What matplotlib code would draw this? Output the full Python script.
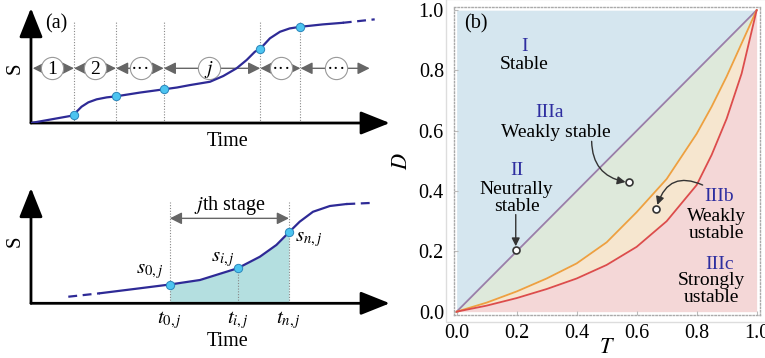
import numpy as np
import matplotlib
matplotlib.use("Agg")
import matplotlib.pyplot as plt
from matplotlib.patches import Rectangle

plt.rcParams['font.family'] = ['Liberation Serif', 'DejaVu Serif']
plt.rcParams['mathtext.fontset'] = 'stix'
plt.rcParams['font.size'] = 14

# ---- panel (a), top: S vs time with stages ----
top_t = [0, 0.120, 0.127, 0.141, 0.160, 0.183, 0.211, 0.237, 0.304, 0.370, 0.407,
         0.443, 0.499, 0.536, 0.573, 0.601, 0.624, 0.639, 0.666, 0.694, 0.721,
         0.750, 0.813, 0.869]
top_s = [0, 0.067, 0.098, 0.142, 0.180, 0.206, 0.223, 0.232, 0.265, 0.293, 0.309,
         0.330, 0.359, 0.409, 0.476, 0.548, 0.620, 0.646, 0.737, 0.794, 0.823,
         0.837, 0.858, 0.872]
top_dash_t = [0.869, 0.958]
top_dash_s = [0.872, 0.902]
bnd_t = [0.120, 0.237, 0.370, 0.639, 0.751]
bnd_s = [0.067, 0.232, 0.293, 0.646, 0.837]
stage_edges = [0.005, 0.120, 0.237, 0.370, 0.639, 0.751, 0.944]
stage_labels = ['1', '2', '···', '$j$', '···', '···']
stage_label_t = [0.058, 0.178, 0.306, 0.497, 0.698, 0.851]

# ---- panel (a), bottom: jth stage ----
bot_t = [0.192, 0.290, 0.387, 0.471, 0.576, 0.638, 0.684, 0.719, 0.749, 0.786,
         0.833, 0.879]
bot_s = [0.087, 0.125, 0.163, 0.202, 0.304, 0.404, 0.506, 0.616, 0.708, 0.794,
         0.844, 0.861]
bot_dash_l_t = [0.104, 0.192]
bot_dash_l_s = [0.057, 0.087]
bot_dash_r_t = [0.879, 0.958]
bot_dash_r_s = [0.861, 0.872]
pt_t = [0.387, 0.576, 0.719]
pt_s = [0.163, 0.304, 0.616]

# ---- panel (b): stability regions ----
T = [0, 0.1, 0.2, 0.3, 0.4, 0.5, 0.6, 0.7, 0.8, 0.85, 0.9, 0.95, 1.0]
D_orange = [0, 0.03, 0.067, 0.11, 0.16, 0.23, 0.33, 0.44, 0.59, 0.68, 0.78, 0.89, 1.0]
D_red = [0, 0.02, 0.045, 0.075, 0.11, 0.155, 0.215, 0.30, 0.42, 0.52, 0.64, 0.79, 1.0]
ticks = [0.0, 0.2, 0.4, 0.6, 0.8, 1.0]

curve_c = '#2e2a96'
dot_fc = '#4cc4f0'
dot_ec = '#2a86bb'

fig = plt.figure(figsize=(7.65, 3.58), dpi=100)


def axis_arrows(ax):
    for tip in [(1.0, 0), (0, 1.0)]:
        ax.annotate('', xy=tip, xytext=(0, 0),
                    arrowprops=dict(arrowstyle='-|>,head_length=1.0,head_width=0.4',
                                    color='black', lw=2, mutation_scale=18,
                                    shrinkA=0, shrinkB=0), annotation_clip=False)


# top schematic
ax1 = fig.add_axes([0.0405, 0.6564, 0.469, 0.321])
ax1.set_xlim(0, 1)
ax1.set_ylim(0, 1)
ax1.axis('off')
axis_arrows(ax1)
ax1.vlines(bnd_t, -0.03, 0.878, colors='#888888', linestyles=(0, (1, 1.5)), lw=0.8)
row_s = 0.476
for a, b in zip(stage_edges[:-1], stage_edges[1:]):
    ax1.annotate('', xy=(b, row_s), xytext=(a, row_s),
                 arrowprops=dict(arrowstyle='<|-|>,head_length=0.6,head_width=0.3',
                                 color='#666666', lw=1, mutation_scale=12,
                                 shrinkA=0, shrinkB=0), zorder=1)
ax1.plot(stage_label_t, [row_s] * len(stage_label_t), 'o', ms=16, mfc='white',
         mec='#999999', mew=0.8, zorder=2)
for x, lab in zip(stage_label_t, stage_labels):
    ax1.text(x, row_s - 0.01, lab, ha='center', va='center', fontsize=14, zorder=3)
ax1.plot(top_t, top_s, color=curve_c, lw=1.6, zorder=4)
ax1.plot(top_dash_t, top_dash_s, color=curve_c, lw=1.6, ls=(0, (4, 2.5)), zorder=4)
ax1.plot(bnd_t, bnd_s, 'o', ms=6, mfc=dot_fc, mec=dot_ec, mew=0.7, zorder=5)
ax1.text(-0.045, 0.48, 'S', rotation=90, ha='center', va='center', fontsize=15)
ax1.text(0.548, -0.163, 'Time', ha='center', va='center', fontsize=14.5)
ax1.text(0.07, 0.862, '(a)', ha='center', va='center', fontsize=14.5)

# bottom schematic
ax2 = fig.add_axes([0.0405, 0.1528, 0.469, 0.322])
ax2.set_xlim(0, 1)
ax2.set_ylim(0, 1)
ax2.axis('off')
axis_arrows(ax2)
bt = np.array(bot_t)
bs = np.array(bot_s)
m = (bt >= pt_t[0]) & (bt <= pt_t[2])
ax2.fill_between(bt[m], 0, bs[m], color='#b4dfe0', lw=0)
ax2.vlines([pt_t[0], pt_t[2]], 0, 0.88, colors='#888888', linestyles=(0, (1, 1.5)), lw=0.8)
ax2.vlines([pt_t[1]], 0, pt_s[1], colors='#888888', linestyles=(0, (1, 1.5)), lw=0.8)
ax2.annotate('', xy=(pt_t[2], 0.737), xytext=(pt_t[0], 0.737),
             arrowprops=dict(arrowstyle='<|-|>,head_length=0.6,head_width=0.3',
                             color='#666666', lw=1, mutation_scale=12,
                             shrinkA=0, shrinkB=0))
ax2.text(0.554, 0.845, '$j$th stage', ha='center', va='center', fontsize=14.5)
ax2.plot(bot_t, bot_s, color=curve_c, lw=1.6)
ax2.plot(bot_dash_l_t, bot_dash_l_s, color=curve_c, lw=1.6, ls=(0, (4, 2.5)))
ax2.plot(bot_dash_r_t, bot_dash_r_s, color=curve_c, lw=1.6, ls=(0, (4, 2.5)))
ax2.plot(pt_t, pt_s, 'o', ms=6, mfc=dot_fc, mec=dot_ec, mew=0.7, zorder=5)
ax2.text(0.37, 0.274, '$s_{0,j}$', ha='right', va='center', fontsize=15)
ax2.text(0.536, 0.376, '$s_{i,j}$', ha='center', va='center', fontsize=15)
ax2.text(0.737, 0.55, '$s_{n,j}$', ha='left', va='center', fontsize=15)
for x, lab in zip(pt_t, ['$t_{0,j}$', '$t_{i,j}$', '$t_{n,j}$']):
    ax2.text(x, -0.145, lab, ha='center', va='center', fontsize=15)
ax2.text(0.548, -0.333, 'Time', ha='center', va='center', fontsize=14.5)
ax2.text(-0.045, 0.534, 'S', rotation=90, ha='center', va='center', fontsize=15)

# panel (b)
ax3 = fig.add_axes([0.593, 0.121, 0.400, 0.859])
Ta = np.array(T)
ax3.fill_between(Ta, Ta, 1, color='#d5e6ef', lw=0)
ax3.fill_between(Ta, D_orange, Ta, color='#dee9db', lw=0)
ax3.fill_between(Ta, D_red, D_orange, color='#f6e6cf', lw=0)
ax3.fill_between(Ta, 0, D_red, color='#f4d7d7', lw=0)
ax3.plot(Ta, Ta, color='#9a7ea8', lw=1.3)
ax3.plot(Ta, D_orange, color='#eea040', lw=1.3)
ax3.plot(Ta, D_red, color='#dc4c4c', lw=1.3)
ax3.set_xlim(-0.01, 1.01)
ax3.set_ylim(-0.01, 1.01)
ax3.set_xticks(ticks)
ax3.set_yticks(ticks)
ax3.set_xticklabels([f'{v:.1f}' for v in ticks])
ax3.set_yticklabels([f'{v:.1f}' for v in ticks])
ax3.tick_params(direction='in', length=3, color='#bbbbbb', labelsize=14.5, pad=7)
for sp in ax3.spines.values():
    sp.set_linestyle((0, (1, 1.5)))
    sp.set_color('#aaaaaa')
    sp.set_linewidth(1)
ax3.add_patch(Rectangle((-0.025, -0.025), 1.05, 1.05, transform=ax3.transAxes,
                        fill=False, ec='#dddddd', lw=1, clip_on=False))
ax3.set_xlabel('$T$', fontsize=16, labelpad=-3)
ax3.set_ylabel('$D$', fontsize=16, labelpad=5)

blue = '#2e2ea0'
fs = 14
ax3.text(0.025, 0.955, '(b)', ha='left', va='center', fontsize=14.5)
ax3.text(0.226, 0.88, 'I', color=blue, ha='center', va='center', fontsize=fs)
ax3.text(0.226, 0.82, 'Stable', ha='center', va='center', fontsize=fs)
ax3.text(0.31, 0.66, 'IIIa', color=blue, ha='center', va='center', fontsize=fs)
ax3.text(0.33, 0.594, 'Weakly stable', ha='center', va='center', fontsize=fs)
ax3.text(0.2, 0.467, 'II', color=blue, ha='center', va='center', fontsize=fs)
ax3.text(0.2, 0.405, 'Neutrally', ha='center', va='center', fontsize=fs)
ax3.text(0.2, 0.348, 'stable', ha='center', va='center', fontsize=fs)
ax3.text(0.875, 0.382, 'IIIb', color=blue, ha='center', va='center', fontsize=fs)
ax3.text(0.867, 0.317, 'Weakly', ha='center', va='center', fontsize=fs)
ax3.text(0.867, 0.258, 'ustable', ha='center', va='center', fontsize=fs)
ax3.text(0.877, 0.155, 'IIIc', color=blue, ha='center', va='center', fontsize=fs)
ax3.text(0.85, 0.102, 'Strongly', ha='center', va='center', fontsize=fs)
ax3.text(0.85, 0.046, 'ustable', ha='center', va='center', fontsize=fs)

mk_t = [0.197, 0.575, 0.663]
mk_d = [0.205, 0.43, 0.34]
ax3.annotate('', xy=(mk_t[0], mk_d[0] + 0.012), xytext=(mk_t[0], 0.322),
             arrowprops=dict(arrowstyle='-|>', color='#333333', lw=1,
                             mutation_scale=12, shrinkA=0, shrinkB=0))
ax3.annotate('', xy=(mk_t[1] - 0.012, mk_d[1]), xytext=(0.45, 0.565),
             arrowprops=dict(arrowstyle='-|>', color='#333333', lw=1,
                             mutation_scale=12, shrinkA=0, shrinkB=0,
                             connectionstyle='arc3,rad=0.4'))
ax3.annotate('', xy=(mk_t[2] + 0.006, mk_d[2] + 0.014), xytext=(0.82, 0.42),
             arrowprops=dict(arrowstyle='-|>', color='#333333', lw=1,
                             mutation_scale=12, shrinkA=0, shrinkB=0,
                             connectionstyle='arc3,rad=0.55'))
ax3.plot(mk_t, mk_d, 'o', ms=5, mfc='white', mec='#333333', mew=1.2, zorder=5)

fig.savefig('out.png', dpi=100)
